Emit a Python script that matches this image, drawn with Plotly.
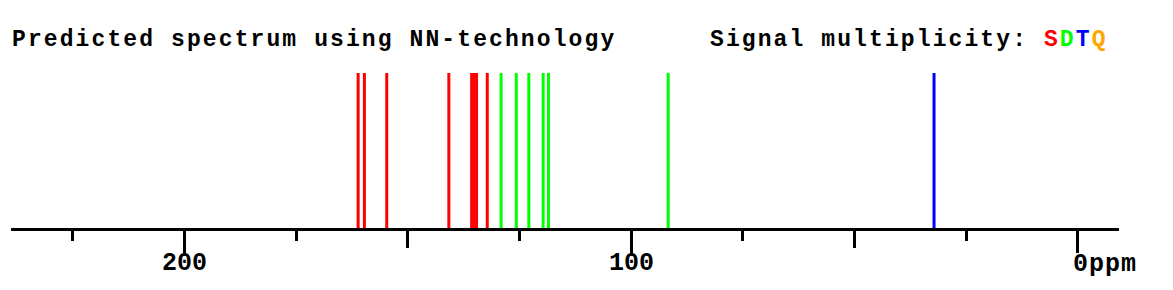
import plotly.graph_objects as go

# Data: predicted 13C shifts (ppm) by multiplicity
singlet_ppm = [161.1, 159.7, 154.7, 140.8, 135.7, 135.2, 134.6, 132.2]
doublet_ppm = [129.1, 125.7, 122.9, 119.7, 118.5, 91.7]
triplet_ppm = [32.2]
quartet_ppm = []
label_vals = [200, 100]
label_text = ["200", "100"]
title_left = "Predicted spectrum using NN-technology"
title_right = "Signal multiplicity: "

colors = {"S": "#ff0000", "D": "#00ff00", "T": "#0000ff", "Q": "#ffa500"}
FONT = "Liberation Mono"

def sticks(vals):
    xs, ys = [], []
    for v in vals:
        xs += [v, v, None]
        ys += [0, 1, None]
    return xs, ys

fig = go.Figure()
for key, vals in [("S", singlet_ppm), ("D", doublet_ppm), ("T", triplet_ppm), ("Q", quartet_ppm)]:
    xs, ys = sticks(vals)
    fig.add_trace(go.Scatter(x=xs, y=ys, mode="lines",
                             line=dict(color=colors[key], width=3),
                             hoverinfo="skip", showlegend=False))
# invisible trace for the overlay axis
fig.add_trace(go.Scatter(x=[100], y=[0], xaxis="x2", mode="markers",
                         marker=dict(opacity=0), hoverinfo="skip", showlegend=False))

xr = [238.8, -9.2]
plot_top, plot_bot = 73, 290 - 62
fig.update_layout(
    width=1173, height=290,
    margin=dict(l=11, r=54, t=plot_top, b=62),
    paper_bgcolor="white", plot_bgcolor="white",
    xaxis=dict(range=xr, showgrid=False, zeroline=False,
               showline=True, linewidth=3, linecolor="black",
               ticks="outside", tick0=0, dtick=50, ticklen=17, tickwidth=3, tickcolor="black",
               showticklabels=False,
               minor=dict(ticks="outside", dtick=25, tick0=0, ticklen=10, tickwidth=3, tickcolor="black")),
    xaxis2=dict(range=xr, overlaying="x", side="bottom", anchor="y",
                showgrid=False, zeroline=False, showline=False,
                ticks="outside", tickmode="array", tickvals=[200, 100, 0],
                ticklen=24, tickwidth=3, tickcolor="black", showticklabels=False),
    yaxis=dict(range=[0, 1], visible=False, fixedrange=True),
)

ls = "letter-spacing:2.1px"
def px2paper(px):
    return (px - 11) / 1108.0
title_y = (plot_bot - 40) / (plot_bot - plot_top)

fig.add_annotation(x=px2paper(10), y=title_y, xref="paper", yref="paper",
                   text=f"<span style='{ls}'>{title_left}</span>", showarrow=False,
                   xanchor="left", yanchor="middle",
                   font=dict(family=FONT, size=23, color="black", weight="bold"))

sdtq = "".join(f"<span style='color:{colors[k]}'>{k}</span>" for k in "SDTQ")
fig.add_annotation(x=px2paper(708), y=title_y, xref="paper", yref="paper",
                   text=f"<span style='{ls}'>{title_right}{sdtq}</span>", showarrow=False,
                   xanchor="left", yanchor="middle",
                   font=dict(family=FONT, size=23, color="black", weight="bold"))

for v, t in zip(label_vals, label_text):
    fig.add_annotation(x=v, y=0, xref="x", yref="paper", text=t, showarrow=False,
                       xanchor="center", yanchor="middle", yshift=-35,
                       font=dict(family=FONT, size=25, color="black", weight="bold"))
fig.add_annotation(x=0, y=0, xref="x", yref="paper",
                   text="<span style='letter-spacing:1px'>0ppm</span>", showarrow=False,
                   xanchor="left", yanchor="middle", yshift=-36, xshift=-7,
                   font=dict(family=FONT, size=25, color="black", weight="bold"))

fig.write_html("out.html")
